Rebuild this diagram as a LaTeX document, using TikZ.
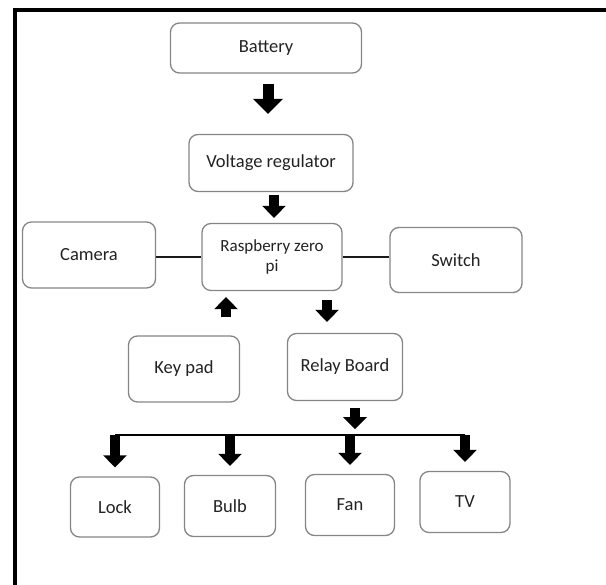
\documentclass[tikz,border=0pt]{standalone}
\usepackage{fontspec}
\setmainfont{Carlito}
\usetikzlibrary{positioning,arrows.meta}
\definecolor{boxline}{HTML}{858585}
\definecolor{wire}{HTML}{1A1A1A}
\definecolor{label}{HTML}{222222}

\begin{document}
\begin{tikzpicture}[
        x=1pt, y=-1pt,
        every node/.style={
            rectangle,
            draw=boxline,
            line width=1.3pt,
            text=label,
            align=center,
            rounded corners=9pt,
            minimum height=60pt,
            font=\fontsize{18.5}{21}\selectfont
        },
        blockarrow/.style={
            -{Triangle[length=15pt,width=29pt]},
            line width=11pt
        },
        smallarrow/.style={
            -{Triangle[length=12pt,width=23pt]},
            line width=9.5pt
        },
        link/.style={
            draw=wire,
            line width=1.4pt
        },
        busline/.style={
            line width=2.5pt
        }
    ]
        \useasboundingbox (0,0) rectangle (606,585);
        \draw[line width=4pt] (15,585) |- (606,10);

        \node (bat) [minimum width=191pt, minimum height=50pt] at (266,48) {Battery};
        \node (vr) [below of=bat, node distance=115pt, xshift=5pt, minimum width=164pt, minimum height=57pt] {Voltage regulator};
        \node (rasp) [below of=vr, node distance=94pt, xshift=1pt, minimum width=140pt, minimum height=67pt, font=\fontsize{17}{20}\selectfont] {Raspberry zero\\pi};
        \node (cam) [left of=rasp, node distance=183pt, yshift=2pt, minimum width=133pt, minimum height=66pt] {Camera};
        \node (sw) [right of=rasp, node distance=184pt, yshift=-3pt, minimum width=132pt, minimum height=65pt] {Switch};
        \node (key) [below of=rasp, node distance=112pt, xshift=-88pt, minimum width=111pt, minimum height=66pt] {Key pad};
        \node (relay) [below of=rasp, node distance=110pt, xshift=73pt, minimum width=115pt, minimum height=67pt] {Relay Board};
        \node (lock) [below of=key, node distance=138pt, xshift=-69pt, minimum width=89pt] {Lock};
        \node (bulb) [right of=lock, node distance=115pt, yshift=1pt, minimum width=91pt, minimum height=61pt] {Bulb};
        \node (fan) [right of=bulb, node distance=120pt, yshift=1pt, minimum width=89pt, minimum height=61pt] {Fan};
        \node (tv) [right of=fan, node distance=115pt, yshift=3pt, minimum width=90pt, minimum height=61pt] {TV};
        \coordinate (bus) at ([xshift=10pt,yshift=-34pt]relay.south);

        \draw[blockarrow, shorten <=10pt, shorten >=20pt] ([xshift=2pt]bat.south) -- ([xshift=2pt]bat.south |- vr.north);
        \draw[smallarrow, shorten <=3pt, shorten >=5pt] ([xshift=3pt]vr.south) -- ([xshift=3pt]vr.south |- rasp.north);
        \draw[smallarrow, shorten <=18pt, shorten >=6pt] ([xshift=42pt]key.north) -- ([xshift=42pt]key.north |- rasp.south);
        \draw[smallarrow, shorten <=9pt, shorten >=11pt] ([xshift=55pt]rasp.south) -- ([xshift=55pt]rasp.south |- relay.north);
        \draw[smallarrow, shorten <=7pt, shorten >=6pt] ([xshift=10pt]relay.south) -- (bus);

        \draw[link] (rasp.west) -- (rasp.west -| cam.east);
        \draw[link] (rasp.east) -- (rasp.east -| sw.west);

        \draw[busline] (lock.north |- bus) -- (tv.north |- bus);
        \foreach \dev in {lock,bulb,fan,tv}
            \draw[smallarrow, shorten >=9pt] (\dev.north |- bus) -- (\dev.north);
    \end{tikzpicture}
\end{document}
